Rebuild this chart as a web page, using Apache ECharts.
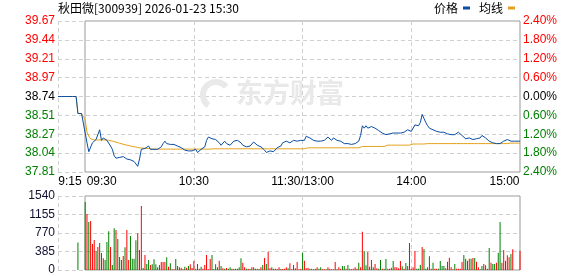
<!DOCTYPE html>
<html><head><meta charset="utf-8">
<script src="https://cdn.jsdelivr.net/npm/echarts@6/dist/echarts.min.js"></script>
<style>html,body{margin:0;padding:0;background:#fff}#c{width:578px;height:276px}</style>
</head><body><div id="c"></div>
<script>
// ---------------- data ----------------
const titleText = '秋田微[300939] 2026-01-23 15:30';
const prevClose = 38.74;
const priceTickLabels = ['37.81','38.04','38.27','38.51','38.74','38.97','39.21','39.44','39.67'];
const pctTickLabels = ['2.40%','1.80%','1.20%','0.60%','0.00%','0.60%','1.20%','1.80%','2.40%'];
const volTickLabels = ['0','385','770','1155','1540'];
const xTickLabels = {'09:15':'9:15','09:30':'09:30','10:30':'10:30','11:30':'11:30/13:00','14:00':'14:00','15:00':'15:00'};
const xGridTimes = ['09:15','10:30','11:30','14:00'];

// pre-market auction 09:15-09:29
const prePrice = [38.74,38.74,38.74,38.74,38.74,38.74,38.74,38.74,38.74,38.74,38.74,38.53,38.53,38.53,38.53];
const preAvg   = [38.74,38.74,38.74,38.74,38.74,38.74,38.74,38.74,38.74,38.74,38.74,38.53,38.53,38.53,38.53];
const preVol   = [null,null,null,null,null,null,null,null,null,null,null,570,null,null,null];
const preDir   = [-1,-1,-1,-1,-1,-1,-1,-1,-1,-1,-1,-1,-1,-1,-1];

// continuous session, one value per minute (09:30..11:30, 13:01..15:00)
const price = [
 38.29,38.17,38.06,38.07,38.17,38.19,38.21,38.19,38.33,38.20,
 38.23,38.24,38.20,38.18,38.13,38.09,38.01,37.98,37.98,37.99,
 37.97,38.00,37.98,37.97,37.97,37.96,37.95,37.94,37.92,37.88,
 37.97,38.09,38.10,38.10,38.08,38.13,38.09,38.07,38.09,38.07,
 38.09,38.09,38.12,38.16,38.19,38.16,38.17,38.15,38.17,38.15,
 38.17,38.13,38.13,38.11,38.10,38.08,38.07,38.07,38.09,38.07,
 38.07,38.09,38.05,38.04,38.09,38.11,38.12,38.20,38.24,38.24,
 38.22,38.21,38.21,38.19,38.17,38.14,38.15,38.19,38.16,38.17,
 38.14,38.16,38.19,38.20,38.20,38.18,38.17,38.14,38.13,38.12,
 38.12,38.13,38.15,38.18,38.16,38.14,38.13,38.12,38.10,38.08,
 38.05,38.03,38.07,38.09,38.06,38.08,38.11,38.09,38.13,38.17,
 38.18,38.19,38.17,38.17,38.19,38.20,38.20,38.19,38.19,38.20,
 38.21,38.20,38.25,38.24,38.23,38.21,38.20,38.20,38.19,38.18,
 38.19,38.19,38.20,38.20,38.24,38.24,38.20,38.23,38.22,38.20,
 38.19,38.19,38.17,38.16,38.15,38.16,38.15,38.15,38.15,38.16,
 38.17,38.19,38.26,38.38,38.35,38.38,38.35,38.37,38.37,38.36,
 38.35,38.34,38.32,38.31,38.29,38.28,38.27,38.26,38.28,38.29,
 38.29,38.29,38.29,38.29,38.29,38.29,38.30,38.31,38.33,38.31,
 38.31,38.33,38.39,38.41,38.38,38.42,38.52,38.47,38.42,38.38,
 38.35,38.33,38.33,38.31,38.31,38.31,38.30,38.30,38.30,38.29,
 38.28,38.29,38.27,38.28,38.27,38.29,38.30,38.30,38.26,38.24,
 38.22,38.21,38.23,38.22,38.21,38.21,38.22,38.23,38.23,38.26,
 38.26,38.23,38.21,38.19,38.18,38.17,38.16,38.16,38.15,38.16,
 38.18,38.19,38.20,38.21,38.20,38.19,38.19,38.19,38.19,38.19,38.19
];
const avgPrice = [
 38.450,38.300,38.250,38.220,38.210,38.205,38.205,38.205,38.205,38.205,
 38.205,38.205,38.205,38.200,38.195,38.190,38.185,38.178,38.172,38.165,
 38.158,38.152,38.147,38.141,38.135,38.130,38.125,38.121,38.117,38.112,
 38.108,38.105,38.104,38.102,38.100,38.099,38.098,38.092,38.092,38.092,
 38.092,38.092,38.092,38.092,38.092,38.092,38.092,38.092,38.092,38.092,
 38.092,38.092,38.092,38.092,38.092,38.092,38.092,38.092,38.092,38.092,
 38.092,38.092,38.092,38.092,38.092,38.092,38.092,38.092,38.092,38.092,
 38.096,38.096,38.096,38.096,38.096,38.096,38.096,38.096,38.096,38.096,
 38.096,38.096,38.096,38.096,38.096,38.096,38.096,38.096,38.096,38.096,
 38.096,38.096,38.096,38.096,38.096,38.096,38.096,38.096,38.096,38.096,
 38.096,38.096,38.096,38.096,38.096,38.096,38.096,38.096,38.096,38.096,
 38.096,38.096,38.096,38.096,38.096,38.096,38.096,38.096,38.096,38.096,
 38.096,38.096,38.108,38.108,38.108,38.108,38.108,38.108,38.108,38.108,
 38.108,38.108,38.108,38.108,38.108,38.108,38.108,38.108,38.108,38.108,
 38.108,38.108,38.108,38.108,38.108,38.108,38.108,38.108,38.108,38.108,
 38.108,38.108,38.108,38.125,38.125,38.125,38.125,38.125,38.125,38.125,
 38.125,38.125,38.125,38.125,38.125,38.125,38.141,38.141,38.141,38.141,
 38.141,38.141,38.141,38.141,38.141,38.141,38.141,38.141,38.141,38.141,
 38.141,38.155,38.155,38.155,38.155,38.155,38.155,38.155,38.160,38.160,
 38.160,38.160,38.160,38.160,38.160,38.160,38.160,38.160,38.160,38.160,
 38.160,38.160,38.160,38.160,38.160,38.160,38.160,38.160,38.160,38.160,
 38.160,38.160,38.160,38.160,38.160,38.160,38.160,38.160,38.160,38.160,
 38.160,38.160,38.160,38.160,38.160,38.160,38.160,38.160,38.160,38.160,
 38.160,38.160,38.160,38.160,38.166,38.166,38.166,38.166,38.166,38.166,38.166
];
const volume = [
 1416,1166,1000,1020,541,625,396,479,562,354,
 243,208,583,805,479,104,868,833,645,271,
 208,291,472,833,208,708,236,236,618,763,
 416,1332,42,312,125,208,104,118,222,118,
 55,104,166,166,166,264,69,139,14,14,
 229,83,55,49,14,69,49,83,118,42,
 187,28,125,28,69,28,104,312,14,229,
 312,21,118,55,194,83,35,28,42,28,
 55,28,21,28,28,55,243,153,55,28,
 28,21,55,55,28,28,21,55,104,250,
 125,382,35,55,28,28,21,55,21,21,
 28,55,35,139,14,104,35,166,14,28,
 361,194,35,49,28,28,14,28,55,28,
 55,14,14,14,55,28,14,14,166,14,
 55,28,83,83,28,104,28,14,28,55,
 28,153,55,798,396,97,375,69,208,55,
 125,35,28,208,28,28,229,28,28,49,
 187,62,55,35,187,76,28,146,83,562,
 28,55,396,28,28,104,479,437,28,55,
 285,28,153,28,28,28,187,83,83,35,
 173,257,55,14,125,28,28,28,166,312,
 236,194,236,236,250,250,173,55,14,83,
 125,97,28,458,153,125,125,153,361,1000,
 153,416,194,305,264,333,430,0,0,0,403
];
// 1 = up (red), -1 = down (green)
const volDir = [
 -1,1,-1,1,1,1,-1,1,-1,1,
 1,-1,-1,-1,1,-1,-1,1,-1,-1,
 -1,1,-1,1,1,-1,-1,-1,-1,1,
 1,1,-1,1,-1,-1,1,-1,-1,-1,
 -1,-1,1,1,1,-1,1,-1,1,1,
 -1,1,-1,1,1,-1,1,-1,1,1,
 1,-1,-1,1,-1,1,1,1,1,1,
 -1,-1,-1,-1,1,-1,1,-1,1,-1,
 -1,1,-1,1,-1,-1,-1,1,1,-1,
 1,-1,1,-1,-1,1,-1,1,-1,1,
 -1,1,1,-1,1,1,1,1,-1,1,
 1,1,-1,1,-1,-1,1,1,1,1,
 -1,1,1,1,-1,-1,1,-1,1,-1,
 -1,1,1,-1,1,1,1,-1,1,-1,
 1,1,-1,-1,1,-1,1,-1,1,1,
 1,-1,1,1,-1,-1,1,-1,1,-1,
 1,1,-1,-1,1,-1,-1,1,1,1,
 -1,1,1,1,1,-1,1,-1,1,-1,
 1,1,1,-1,-1,-1,1,-1,-1,1,
 -1,1,-1,1,1,-1,-1,-1,-1,1,
 -1,1,1,1,-1,1,1,1,1,-1,
 -1,-1,1,-1,1,-1,1,1,-1,-1,
 1,-1,1,-1,1,-1,-1,1,-1,-1,
 1,1,-1,1,1,-1,1,1,1,1,1
];

// ---------------- build ----------------
function pad(n){return (n<10?'0':'')+n;}
const times = [];
for (let m = 15; m < 30; m++) times.push('09:' + pad(m));
for (let t = 9*60+30; t <= 11*60+30; t++) times.push(pad(Math.floor(t/60)) + ':' + pad(t%60));
for (let t = 13*60+1; t <= 15*60; t++) times.push(pad(Math.floor(t/60)) + ':' + pad(t%60));

const step = prevClose * 0.024 / 4;            // one grid row
const toUnit = p => (p - prevClose) / step;
const allPrice = prePrice.concat(price).map(toUnit);
const allAvg = preAvg.concat(avgPrice).map(toUnit);
const allVol = preVol.concat(volume);
const allDir = preDir.concat(volDir);

const NUM = "'Liberation Sans', Arial, sans-serif";
const CJK = "'Noto Sans CJK SC', 'Liberation Sans', sans-serif";
const RED = '#ff0000', GREEN = '#008000';
const dashed = {show: true, lineStyle: {color: '#d0d0d0', type: [4, 3], width: 1}};

const xSplit = {show: true, interval: (i, v) => xGridTimes.indexOf(times[i]) >= 0, lineStyle: dashed.lineStyle};

const chart = echarts.init(document.getElementById('c'), null, {renderer: 'canvas'});
chart.setOption({
  animation: false,
  backgroundColor: '#fff',
  title: {text: titleText, left: 58, top: 2, padding: 0,
    textStyle: {fontSize: 12, fontWeight: 'normal', color: '#000', fontFamily: CJK}},
  legend: {data: ['价格', '均线'], right: 63, top: 2, padding: 0, align: 'right',
    icon: 'rect', itemWidth: 7, itemHeight: 3, itemGap: 9,
    textStyle: {fontSize: 12, color: '#000', fontFamily: CJK}},
  graphic: [
    {type: 'text', left: 236, top: 79, z: 1, silent: true,
      style: {text: '东方财富', font: 'bold 27px "Noto Sans CJK SC"', fill: '#e9e9e9'}},
    {type: 'arc', z: 1, silent: true, shape: {cx: 216, cy: 95, r: 13, startAngle: 2.2, endAngle: 5.6},
      style: {stroke: '#e9e9e9', lineWidth: 6, fill: null}}
  ],
  grid: [
    {left: 58, right: 58, top: 21, height: 151},
    {left: 58, right: 58, top: 196, height: 74},
    {left: 85, right: 58, top: 21, height: 151, show: true, borderColor: '#999', borderWidth: 1, backgroundColor: 'transparent'},
    {left: 85, right: 58, top: 196, height: 74, show: true, borderColor: '#999', borderWidth: 1, backgroundColor: 'transparent'}
  ],
  xAxis: [
    {gridIndex: 0, type: 'category', data: times, boundaryGap: false,
      axisLine: {show: false}, axisTick: {show: false}, splitLine: xSplit,
      axisLabel: {interval: (i, v) => v in xTickLabels, margin: 4, fontSize: 12, color: '#000', fontFamily: NUM,
        formatter: v => {
          const t = xTickLabels[v];
          if (v === '09:15') return '{l|' + t + '}';
          if (v === '09:30') return '{m|' + t + '}';
          if (v === '15:00') return '{r|' + t + '}';
          return t;
        },
        rich: {
          l: {padding: [0, 0, 0, 24], fontSize: 12, fontFamily: NUM, color: '#000'},
          m: {padding: [0, 0, 0, 33], fontSize: 12, fontFamily: NUM, color: '#000'},
          r: {padding: [0, 31, 0, 0], fontSize: 12, fontFamily: NUM, color: '#000'}
        }}},
    {gridIndex: 1, type: 'category', data: times, boundaryGap: false,
      axisLine: {show: false}, axisTick: {show: false}, axisLabel: {show: false}, splitLine: xSplit},
    {gridIndex: 2, type: 'category', data: times, show: false},
    {gridIndex: 3, type: 'category', data: times, show: false}
  ],
  yAxis: [
    {gridIndex: 0, type: 'value', min: -4, max: 4, interval: 1,
      axisLine: {show: false}, axisTick: {show: false}, splitLine: dashed,
      axisLabel: {margin: 3, fontSize: 12, fontFamily: NUM,
        formatter: v => priceTickLabels[Math.round(v) + 4],
        color: v => v > 0 ? RED : (v < 0 ? GREEN : '#000')}},
    {gridIndex: 0, type: 'value', position: 'right', min: -4, max: 4, interval: 1,
      axisLine: {show: false}, axisTick: {show: false}, splitLine: {show: false},
      axisLabel: {margin: 3, fontSize: 12, fontFamily: NUM,
        formatter: v => pctTickLabels[Math.round(v) + 4],
        color: v => v > 0 ? RED : (v < 0 ? GREEN : '#000')}},
    {gridIndex: 1, type: 'value', min: 0, max: 1540, interval: 385,
      axisLine: {show: false}, axisTick: {show: false}, splitLine: dashed,
      axisLabel: {margin: 3, fontSize: 12, fontFamily: NUM, color: '#101030',
        formatter: v => volTickLabels[Math.round(v / 385)]}},
    {gridIndex: 2, type: 'value', show: false},
    {gridIndex: 3, type: 'value', show: false}
  ],
  series: [
    {name: '均线', type: 'line', xAxisIndex: 0, yAxisIndex: 0, data: allAvg, showSymbol: false, z: 3,
      itemStyle: {color: '#e4a11b'}, lineStyle: {color: '#e4a11b', width: 1}},
    {name: '价格', type: 'line', xAxisIndex: 0, yAxisIndex: 0, data: allPrice, showSymbol: false, z: 4,
      itemStyle: {color: '#0a4da2'}, lineStyle: {color: '#0a4da2', width: 1}},
    {name: '成交量', type: 'bar', xAxisIndex: 1, yAxisIndex: 2, data: allVol, barWidth: 1, z: 3,
      itemStyle: {color: p => allDir[p.dataIndex] > 0 ? RED : GREEN}}
  ]
});
</script>
</body></html>
